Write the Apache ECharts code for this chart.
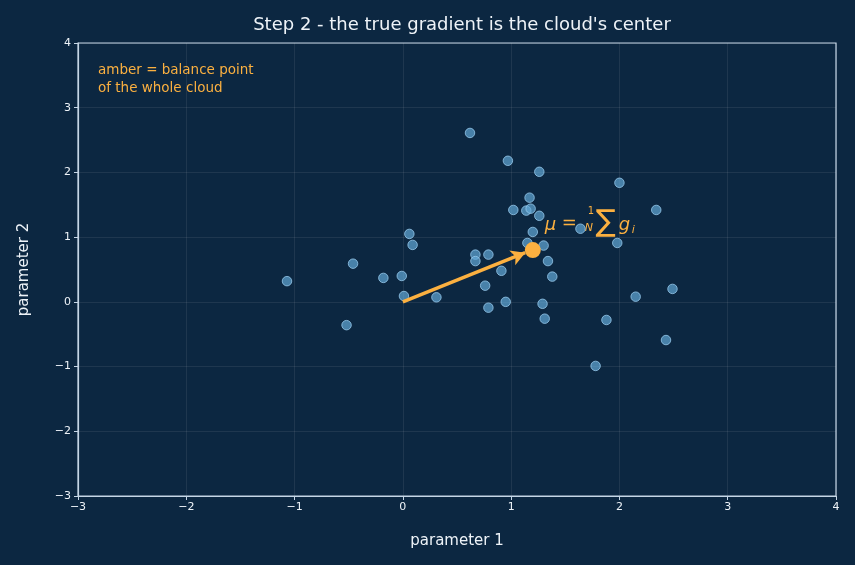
<!DOCTYPE html>
<html>
<head>
<meta charset="utf-8">
<script src="https://cdn.jsdelivr.net/npm/echarts@6/dist/echarts.min.js"></script>
<style>
  html, body { margin: 0; padding: 0; background: #0c2741; }
  #chart { width: 855px; height: 565px; }
</style>
</head>
<body>
<div id="chart"></div>
<script>
// per-sample gradients (parameter 1, parameter 2)
const gradX = [0.62, 0.97, 1.26, 2.00, 2.34, 1.17, 1.02, 1.14, 1.18, 1.26, 1.20, 1.15, 1.30, 1.34, 1.38,
  1.64, 1.98, 2.15, 2.49, 1.88, 2.43, 1.78, 1.29, 1.31, 0.95, 0.79, 0.76, 0.91, 0.67, 0.67, 0.79,
  0.06, 0.09, -0.46, -0.18, -0.01, 0.01, 0.31, -1.07, -0.52]
const gradY = [2.61, 2.18, 2.01, 1.84, 1.42, 1.61, 1.42, 1.41, 1.44, 1.33, 1.08, 0.91, 0.87, 0.63, 0.39,
  1.13, 0.91, 0.08, 0.20, -0.28, -0.59, -0.99, -0.03, -0.26, 0.00, -0.09, 0.25, 0.48, 0.73, 0.63, 0.73,
  1.05, 0.88, 0.59, 0.37, 0.40, 0.09, 0.07, 0.32, -0.36]
const meanPoint = [1.20, 0.80]
const arrowStart = [0, 0]
const arrowEnd = [1.13, 0.76]
const xTicks = [-3, -2, -1, 0, 1, 2, 3, 4]
const yTicks = [-3, -2, -1, 0, 1, 2, 3, 4]

const amber = '#fbb040'
const axisColor = '#c5d6e6'
const textColor = '#eef3f8'
const font = 'DejaVu Sans'

const minus = v => String(v).replace('-', '\u2212')

const chart = echarts.init(document.getElementById('chart'))

const option = {
  backgroundColor: '#0c2741',
  animation: false,
  textStyle: { fontFamily: font },
  title: {
    text: "Step 2 - the true gradient is the cloud's center",
    left: 457,
    textAlign: 'center',
    top: 11,
    textStyle: { color: textColor, fontSize: 18, fontWeight: 'normal', fontFamily: font }
  },
  grid: {
    left: 78, right: 19, top: 43, bottom: 69,
    show: true, borderColor: axisColor, borderWidth: 1.2, backgroundColor: 'transparent'
  },
  xAxis: {
    type: 'value', min: xTicks[0], max: xTicks[xTicks.length - 1], interval: 1,
    name: 'parameter 1', nameLocation: 'middle', nameGap: 38,
    nameTextStyle: { color: textColor, fontSize: 15, fontFamily: font },
    axisLine: { show: true, onZero: false, lineStyle: { color: axisColor, width: 1.2 } },
    axisTick: { show: true, length: 4, lineStyle: { color: axisColor } },
    axisLabel: { color: textColor, fontSize: 11, margin: 6, formatter: minus },
    splitLine: { show: true, lineStyle: { color: 'rgba(255,255,255,0.1)', width: 0.8 } }
  },
  yAxis: {
    type: 'value', min: yTicks[0], max: yTicks[yTicks.length - 1], interval: 1,
    name: 'parameter 2', nameLocation: 'middle', nameGap: 46,
    nameTextStyle: { color: textColor, fontSize: 15, fontFamily: font },
    axisLine: { show: true, onZero: false, lineStyle: { color: axisColor, width: 1.2 } },
    axisTick: { show: true, length: 4, lineStyle: { color: axisColor } },
    axisLabel: { color: textColor, fontSize: 11, margin: 7, formatter: minus },
    splitLine: { show: true, lineStyle: { color: 'rgba(255,255,255,0.1)', width: 0.8 } }
  },
  series: [
    {
      type: 'scatter',
      data: gradX.map((x, i) => [x, gradY[i]]),
      symbolSize: 9.5,
      itemStyle: { color: 'rgba(98,168,214,0.7)', borderColor: 'rgba(150,200,235,0.8)', borderWidth: 1, opacity: 1 },
      z: 2
    },
    {
      type: 'scatter',
      data: [meanPoint],
      symbolSize: 16,
      itemStyle: { color: amber, opacity: 1 },
      z: 4,
      markLine: {
        silent: true,
        symbol: ['none', 'arrow'],
        symbolSize: [12, 14],
        label: { show: false },
        lineStyle: { color: amber, width: 3.5, type: 'solid', opacity: 1 },
        data: [[{ coord: arrowStart }, { coord: arrowEnd }]]
      }
    }
  ]
}

chart.setOption(option)

// annotation + formula label next to the mean point
const p = chart.convertToPixel({ gridIndex: 0 }, meanPoint)
const it = '"DejaVu Sans"'
const t = (text, x, y, f) => ({
  type: 'text', x: x, y: y,
  style: { text: text, fill: amber, font: f, verticalAlign: 'middle', align: 'left' }
})
chart.setOption({
  graphic: [
    {
      type: 'text', left: 98, top: 61,
      style: {
        text: 'amber = balance point\nof the whole cloud',
        fill: amber, font: '13.5px ' + it, lineHeight: 18
      }
    },
    {
      type: 'group', x: p[0], y: p[1],
      children: [
        t('\u03bc', 12, -25, 'italic 18px ' + it),
        t('=', 29, -27, '18px ' + it),
        t('1', 55, -39, '10px ' + it),
        t('N', 52, -22, 'italic 11px ' + it),
        t('\u2211', 63, -27, '30px ' + it),
        t('g', 86, -25, 'italic 18px ' + it),
        t('i', 99, -20, 'italic 11px ' + it)
      ]
    }
  ]
})
</script>
</body>
</html>
